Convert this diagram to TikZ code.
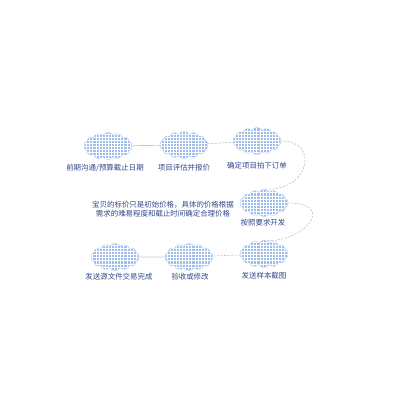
\documentclass[tikz,border=0pt]{standalone}
\usepackage{fontspec}
\newfontfamily\cjk{Noto Sans CJK SC}
\usepackage{xcolor}
\usetikzlibrary{shapes.symbols, patterns}

\definecolor{cloudblue}{HTML}{9FBDEA}
\definecolor{inkblue}{HTML}{34478A}

% a finer grid than the stock one
\pgfdeclarepatternformonly{finegrid}{\pgfqpoint{-1pt}{-1pt}}{\pgfqpoint{3pt}{3pt}}{\pgfqpoint{2.2pt}{2.2pt}}
{
  \pgfsetlinewidth{0.45pt}
  \pgfpathmoveto{\pgfqpoint{0pt}{0pt}}
  \pgfpathlineto{\pgfqpoint{2.2pt}{0pt}}
  \pgfpathmoveto{\pgfqpoint{0pt}{0pt}}
  \pgfpathlineto{\pgfqpoint{0pt}{2.2pt}}
  \pgfusepath{stroke}
}

\tikzset{
  puff/.style={cloud, cloud puffs=14, cloud puff arc=120, aspect=1.8, inner sep=0pt,
    minimum width=1.2cm, minimum height=0.68cm, draw=cloudblue!70, line width=0.3pt,
    preaction={fill=cloudblue}, pattern=finegrid, pattern color=white},
  lbl/.style={text=inkblue, font=\cjk\fontsize{5.3}{6}\selectfont, inner sep=0pt},
  link/.style={draw=gray!45, line width=0.5pt},
  dashlink/.style={link, dash pattern=on 1.5pt off 1pt}
}

\begin{document}
\begin{tikzpicture}[x=0.025cm, y=-0.025cm]

   \useasboundingbox (0,0) rectangle (400,400);

    % Draw the clouds
    \node[puff] (c1) at (108,146) {};
    \node[puff] (c2) at (184,145) {};
    \node[puff] (c3) at (257,141) {};
    \node[puff] (c4) at (264,203) {};
    \node[puff] (c5) at (264,254) {};
    \node[puff] (c6) at (189,257) {};
    \node[puff] (c7) at (115,257) {};

    % Label the steps
    \node[lbl] (l1) at (105,168) {前期沟通/预算截止日期};
    \node[lbl] (l2) at (184,168) {项目评估并报价};
    \node[lbl] (l3) at (257,166) {确定项目拍下订单};
    \node[lbl] (l4) at (263,223) {按照要求开发};
    \node[lbl] (l5) at (264,276) {发送样本截图};
    \node[lbl] (l6) at (190,277) {验收或修改};
    \node[lbl] (l7) at (119,277) {发送源文件交易完成};
    \node[lbl, align=center] (note) at (163,209) {宝贝的标价只是初始价格，具体的价格根据\\需求的难易程度和截止时间确定合理价格};

    % Draw the connectors
    \draw[link] (c1) -- (c2);
    \draw[dashlink] (c2) -- (c3);
    \draw[dashlink] (c3.east) .. controls (320,140) and (310,192) .. (c4.north);
    \draw[dashlink] (c4.east) .. controls (340,203) and (300,245) .. (c5.north);
    \draw[dashlink] (c5) -- (c6);
    \draw[link] (c6) -- (c7);

\end{tikzpicture}
\end{document}
